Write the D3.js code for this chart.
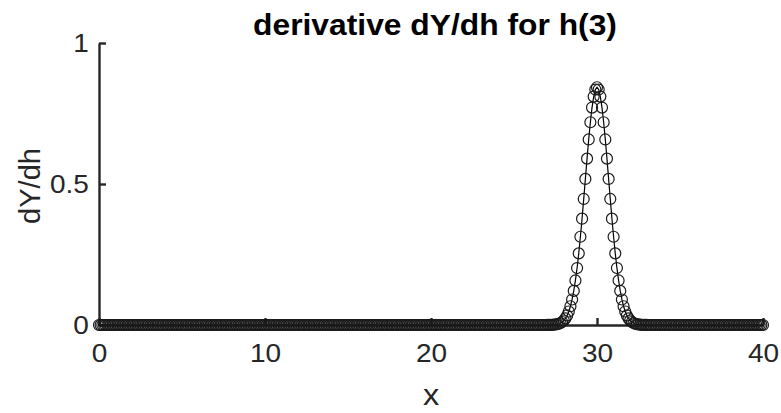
<!DOCTYPE html>
<html>
<head>
<meta charset="utf-8">
<script src="https://cdn.jsdelivr.net/npm/d3@7"></script>
<style>
  html, body { margin: 0; padding: 0; background: #fff; }
  text { font-family: Arial, "Liberation Sans", Helvetica, sans-serif; fill: #262626; }
</style>
</head>
<body>
<svg id="stage" width="781" height="413"></svg>
<script>
var svg = d3.select("#stage");

// data
var titleText = "derivative dY/dh for h(3)";
var xLabelText = "x";
var yLabelText = "dY/dh";

var xTicks = [0, 10, 20, 30, 40];
var yTicks = [0, 0.5, 1];
var xTickLabels = ["0", "10", "20", "30", "40"];
var yTickLabels = ["0", "0.5", "1"];

var xValues = [
  0,0.1,0.2,0.3,0.4,0.5,0.6,0.7,0.8,0.9,
  1,1.1,1.2,1.3,1.4,1.5,1.6,1.7,1.8,1.9,
  2,2.1,2.2,2.3,2.4,2.5,2.6,2.7,2.8,2.9,
  3,3.1,3.2,3.3,3.4,3.5,3.6,3.7,3.8,3.9,
  4,4.1,4.2,4.3,4.4,4.5,4.6,4.7,4.8,4.9,
  5,5.1,5.2,5.3,5.4,5.5,5.6,5.7,5.8,5.9,
  6,6.1,6.2,6.3,6.4,6.5,6.6,6.7,6.8,6.9,
  7,7.1,7.2,7.3,7.4,7.5,7.6,7.7,7.8,7.9,
  8,8.1,8.2,8.3,8.4,8.5,8.6,8.7,8.8,8.9,
  9,9.1,9.2,9.3,9.4,9.5,9.6,9.7,9.8,9.9,
  10,10.1,10.2,10.3,10.4,10.5,10.6,10.7,10.8,10.9,
  11,11.1,11.2,11.3,11.4,11.5,11.6,11.7,11.8,11.9,
  12,12.1,12.2,12.3,12.4,12.5,12.6,12.7,12.8,12.9,
  13,13.1,13.2,13.3,13.4,13.5,13.6,13.7,13.8,13.9,
  14,14.1,14.2,14.3,14.4,14.5,14.6,14.7,14.8,14.9,
  15,15.1,15.2,15.3,15.4,15.5,15.6,15.7,15.8,15.9,
  16,16.1,16.2,16.3,16.4,16.5,16.6,16.7,16.8,16.9,
  17,17.1,17.2,17.3,17.4,17.5,17.6,17.7,17.8,17.9,
  18,18.1,18.2,18.3,18.4,18.5,18.6,18.7,18.8,18.9,
  19,19.1,19.2,19.3,19.4,19.5,19.6,19.7,19.8,19.9,
  20,20.1,20.2,20.3,20.4,20.5,20.6,20.7,20.8,20.9,
  21,21.1,21.2,21.3,21.4,21.5,21.6,21.7,21.8,21.9,
  22,22.1,22.2,22.3,22.4,22.5,22.6,22.7,22.8,22.9,
  23,23.1,23.2,23.3,23.4,23.5,23.6,23.7,23.8,23.9,
  24,24.1,24.2,24.3,24.4,24.5,24.6,24.7,24.8,24.9,
  25,25.1,25.2,25.3,25.4,25.5,25.6,25.7,25.8,25.9,
  26,26.1,26.2,26.3,26.4,26.5,26.6,26.7,26.8,26.9,
  27,27.1,27.2,27.3,27.4,27.5,27.6,27.7,27.8,27.9,
  28,28.1,28.2,28.3,28.4,28.5,28.6,28.7,28.8,28.9,
  29,29.1,29.2,29.3,29.4,29.5,29.6,29.7,29.8,29.9,
  30,30.1,30.2,30.3,30.4,30.5,30.6,30.7,30.8,30.9,
  31,31.1,31.2,31.3,31.4,31.5,31.6,31.7,31.8,31.9,
  32,32.1,32.2,32.3,32.4,32.5,32.6,32.7,32.8,32.9,
  33,33.1,33.2,33.3,33.4,33.5,33.6,33.7,33.8,33.9,
  34,34.1,34.2,34.3,34.4,34.5,34.6,34.7,34.8,34.9,
  35,35.1,35.2,35.3,35.4,35.5,35.6,35.7,35.8,35.9,
  36,36.1,36.2,36.3,36.4,36.5,36.6,36.7,36.8,36.9,
  37,37.1,37.2,37.3,37.4,37.5,37.6,37.7,37.8,37.9,
  38,38.1,38.2,38.3,38.4,38.5,38.6,38.7,38.8,38.9,
  39,39.1,39.2,39.3,39.4,39.5,39.6,39.7,39.8,39.9,
  40
];

var yValues = [
  0,0,0,0,0,0,0,0,0,0,   0,0,0,0,0,0,0,0,0,0,   0,0,0,0,0,0,0,0,0,0,
  0,0,0,0,0,0,0,0,0,0,   0,0,0,0,0,0,0,0,0,0,   0,0,0,0,0,0,0,0,0,0,
  0,0,0,0,0,0,0,0,0,0,   0,0,0,0,0,0,0,0,0,0,   0,0,0,0,0,0,0,0,0,0,
  0,0,0,0,0,0,0,0,0,0,   0,0,0,0,0,0,0,0,0,0,   0,0,0,0,0,0,0,0,0,0,
  0,0,0,0,0,0,0,0,0,0,   0,0,0,0,0,0,0,0,0,0,   0,0,0,0,0,0,0,0,0,0,
  0,0,0,0,0,0,0,0,0,0,   0,0,0,0,0,0,0,0,0,0,   0,0,0,0,0,0,0,0,0,0,
  0,0,0,0,0,0,0,0,0,0,   0,0,0,0,0,0,0,0,0,0,   0,0,0,0,0,0,0,0,0,0,
  0,0,0,0,0,0,0,0,0,0,   0,0,0,0,0,0,0,0,0,0,   0,0,0,0,0,0,0,0,0,0,
  0,0,0,0,0,0,0,0,0,0,   0,0,0,0,0,0,0,0,0,0,   0,0,0,0,0,0,0,0,0,0,
  0.0001,0.0002,0.0003,0.0006,0.0010,0.0017,0.0028,0.0044,0.0069,0.0106,
  0.0159,0.0235,0.0339,0.0479,0.0665,0.0905,0.121,0.158,0.202,0.254,
  0.313,0.377,0.447,0.518,0.590,0.658,0.719,0.771,0.810,0.835,
  0.843,0.835,0.810,0.771,0.719,0.658,0.590,0.518,0.447,0.377,
  0.313,0.254,0.202,0.158,0.121,0.0905,0.0665,0.0479,0.0339,0.0235,
  0.0159,0.0106,0.0069,0.0044,0.0028,0.0017,0.0010,0.0006,0.0003,0.0002,
  0.0001,0,0,0,0,0,0,0,0,0,
  0,0,0,0,0,0,0,0,0,0,   0,0,0,0,0,0,0,0,0,0,   0,0,0,0,0,0,0,0,0,0,
  0,0,0,0,0,0,0,0,0,0,   0,0,0,0,0,0,0,0,0,0,   0,0,0,0,0,0,0,0,0,0,
  0
];

////////////////////////////// LAYOUT

var axisColor = "#262626";
var stretch = 1.12; // the picture's text is a bit wider than plain Arial

var x = d3.scaleLinear().domain([0, 40]).range([99, 763]);
var y = d3.scaleLinear().domain([0, 1]).range([325, 43]);

var points = xValues.map(function(v, i){ return {x: v, y: yValues[i]}; });

////////////////////////////// AXES

var xAxis = d3.axisBottom(x)
  .tickValues(xTicks)
  .tickFormat(function(d, i){ return xTickLabels[i]; })
  .tickSizeInner(-7)
  .tickSizeOuter(0)
  .tickPadding(19);

var yAxis = d3.axisLeft(y)
  .tickValues(yTicks)
  .tickFormat(function(d, i){ return yTickLabels[i]; })
  .tickSizeInner(-7)
  .tickSizeOuter(0)
  .tickPadding(9);

var gx = svg.append("g")
  .attr("transform", "translate(0," + y(0) + ")")
  .call(xAxis);

var gy = svg.append("g")
  .attr("transform", "translate(" + x(0) + ",0)")
  .call(yAxis);

[gx, gy].forEach(function(g){
  g.select(".domain").attr("stroke", axisColor).attr("stroke-width", 2.4);
  g.selectAll(".tick line").attr("stroke", axisColor).attr("stroke-width", 2.4);
  g.selectAll(".tick text")
    .attr("fill", axisColor)
    .style("font-size", "25px")
    .attr("font-family", null)
    .attr("transform", "scale(" + stretch + ",1)");
});

////////////////////////////// SERIES

var line = d3.line()
  .x(function(d){ return x(d.x); })
  .y(function(d){ return y(d.y); });

svg.append("path")
  .datum(points)
  .attr("fill", "none")
  .attr("stroke", "#000")
  .attr("stroke-width", 1.2)
  .attr("d", line);

svg.append("g")
  .selectAll("circle")
  .data(points)
  .enter()
  .append("circle")
    .attr("cx", function(d){ return x(d.x); })
    .attr("cy", function(d){ return y(d.y); })
    .attr("r", 5.5)
    .attr("fill", "none")
    .attr("stroke", "#1a1a1a")
    .attr("stroke-width", 1.2);

////////////////////////////// LABELS

svg.append("text")
  .attr("transform", "translate(435,35) scale(" + (stretch - 0.06) + ",1)")
  .attr("text-anchor", "middle")
  .style("font-size", "30px")
  .style("font-weight", "bold")
  .style("fill", "#000")
  .text(titleText);

svg.append("text")
  .attr("transform", "translate(431,405) scale(" + stretch + ",1)")
  .attr("text-anchor", "middle")
  .style("font-size", "29px")
  .text(xLabelText);

svg.append("text")
  .attr("transform", "translate(40,186) rotate(-90)")
  .attr("text-anchor", "middle")
  .style("font-size", "29px")
  .text(yLabelText);
</script>
</body>
</html>
